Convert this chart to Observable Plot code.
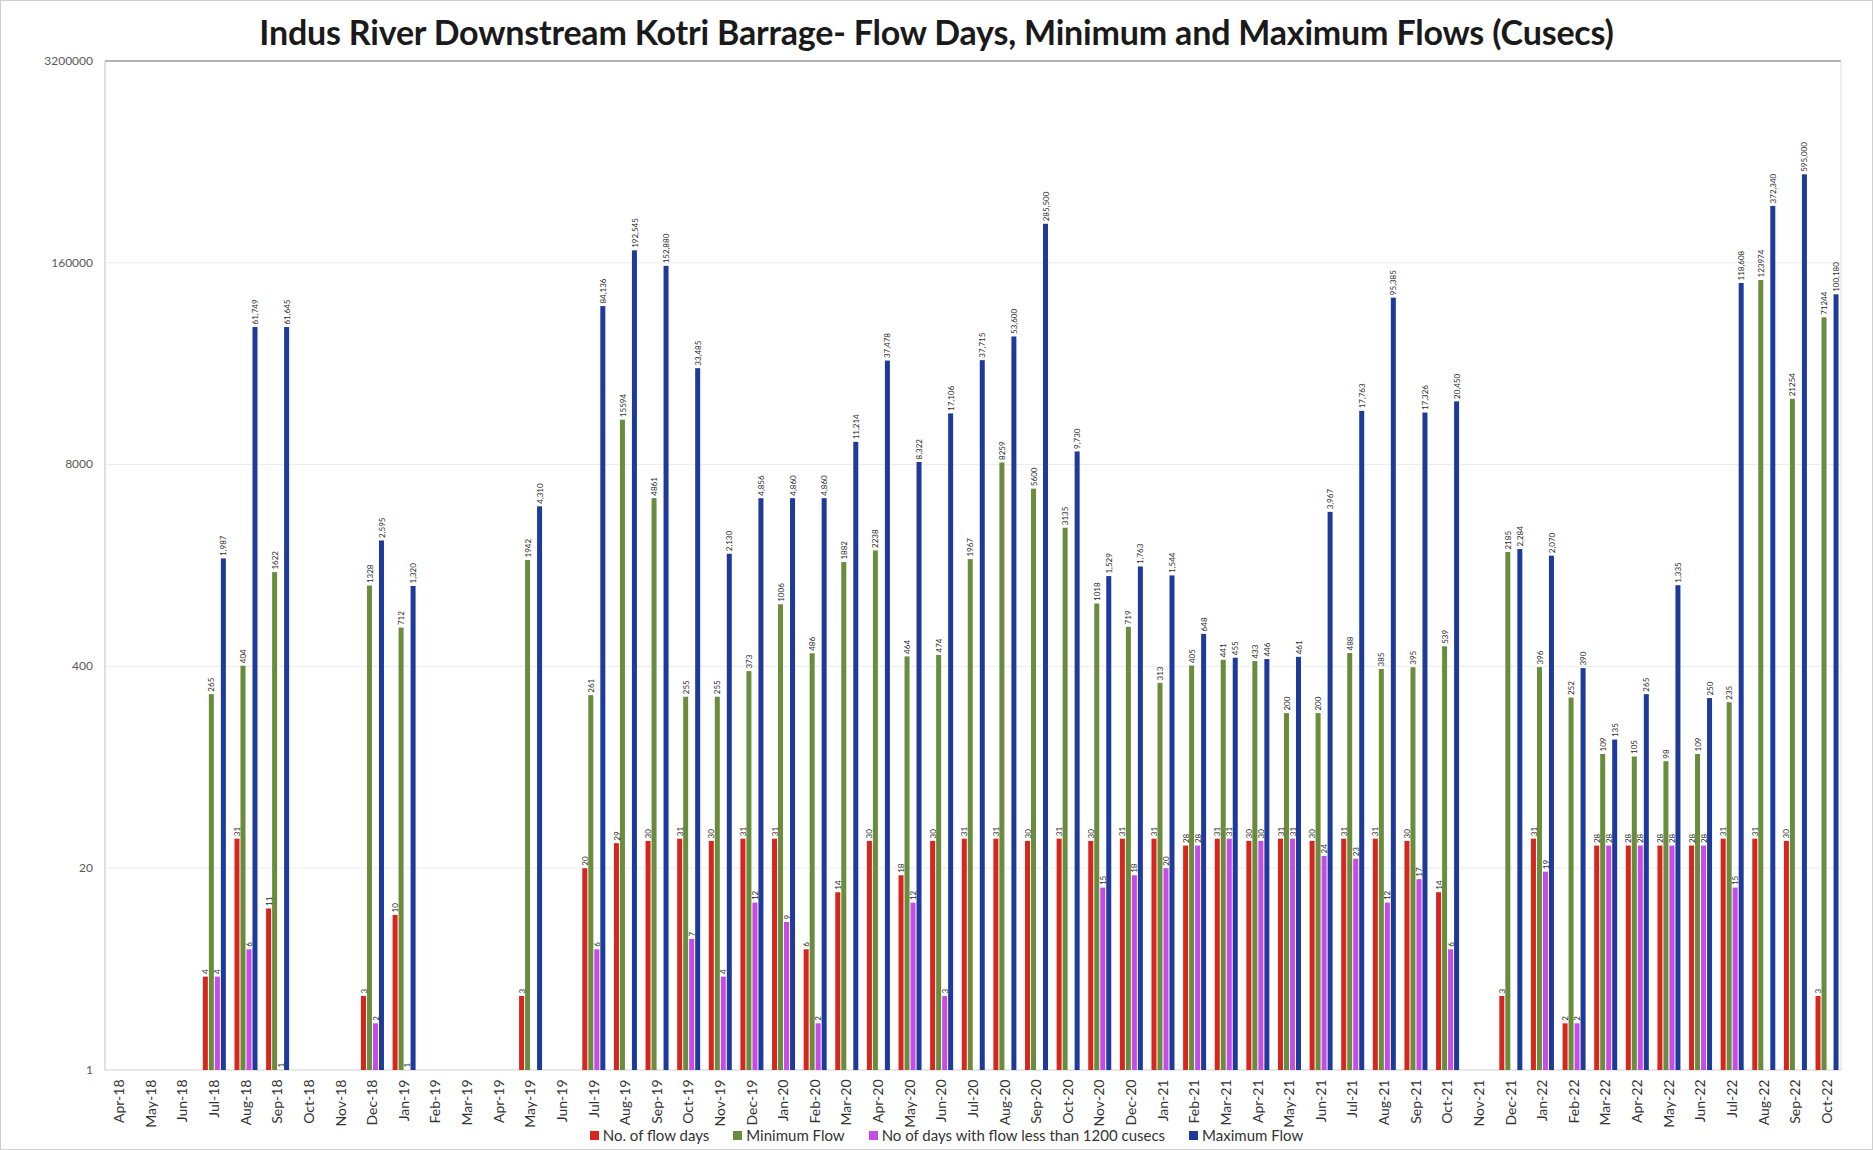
<!DOCTYPE html>
<html>
<head>
<meta charset="utf-8">
<script src="https://cdn.jsdelivr.net/npm/d3@7"></script>
<script src="https://cdn.jsdelivr.net/npm/@observablehq/plot@0.6"></script>
<style>
  body { margin: 0; background: #fff; }
  #wrap { width: 1873px; height: 1150px; box-sizing: border-box; border: 1px solid #cfcfcf; overflow: hidden;
          font-family: Lato, "Open Sans", sans-serif; background: #fff; }
  #title { height: 46px; padding-top: 8px; line-height: 46px; text-align: center; font-weight: 700;
           font-size: 34px; color: #1a1a1a; letter-spacing: -0.2px; }
  #chart svg { display: block; overflow: visible; }
  #legend { display: flex; justify-content: center; gap: 24px; font-size: 15px; color: #333;
            height: 16px; line-height: 16px; padding-left: 20px; position: relative; margin-top: -9px; }
  #legend .it { display: flex; align-items: center; }
  #legend .sw { display: inline-block; width: 9px; height: 9px; margin-right: 4px; }
</style>
</head>
<body>
<div id="wrap">
  <div id="title">Indus River Downstream Kotri Barrage- Flow Days, Minimum and Maximum Flows (Cusecs)</div>
  <div id="chart"></div>
  <div id="legend"></div>
</div>
<script>
const months = ["Apr-18","May-18","Jun-18","Jul-18","Aug-18","Sep-18","Oct-18","Nov-18","Dec-18","Jan-19",
  "Feb-19","Mar-19","Apr-19","May-19","Jun-19","Jul-19","Aug-19","Sep-19","Oct-19","Nov-19","Dec-19",
  "Jan-20","Feb-20","Mar-20","Apr-20","May-20","Jun-20","Jul-20","Aug-20","Sep-20","Oct-20","Nov-20",
  "Dec-20","Jan-21","Feb-21","Mar-21","Apr-21","May-21","Jun-21","Jul-21","Aug-21","Sep-21","Oct-21",
  "Nov-21","Dec-21","Jan-22","Feb-22","Mar-22","Apr-22","May-22","Jun-22","Jul-22","Aug-22","Sep-22","Oct-22"];

const seriesNames = ["No. of flow days", "Minimum Flow", "No of days with flow less than 1200 cusecs", "Maximum Flow"];
const seriesColors = ["#d7261e", "#6a8d3d", "#c64be8", "#1e3a9b"];

const flowDays = [null,null,null,4,31,11,null,null,3,10,null,null,null,3,null,20,29,30,31,30,31,
  31,6,14,30,18,30,31,31,30,31,30,31,31,28,31,30,31,30,31,31,30,14,null,3,31,2,28,28,28,28,31,31,30,3];

const minFlow = [null,null,null,265,404,1622,null,null,1328,712,null,null,null,1942,null,261,15594,4861,255,255,373,
  1006,486,1882,2238,464,474,1967,8259,5600,3135,1018,719,313,405,441,433,200,200,488,385,395,539,null,
  2185,396,252,109,105,98,109,235,123974,21254,71244];

const lowDays = [null,null,null,4,6,1,null,null,2,1,null,null,null,null,null,6,null,null,7,4,12,
  9,2,null,null,12,3,null,null,null,null,15,18,20,28,31,30,31,24,23,12,17,6,null,
  null,19,2,28,28,28,28,15,null,null,null];

const maxFlow = [null,null,null,1987,61749,61645,null,null,2595,1320,null,null,null,4310,null,84136,192545,152880,33485,2130,4856,
  4860,4860,11214,37478,8322,17106,37715,53600,285500,9730,1529,1763,1544,648,455,446,461,3967,17763,95385,17326,20450,null,
  2284,2070,390,135,265,1335,250,118608,372340,595000,100180];

const yTicks = [1, 20, 400, 8000, 160000, 3200000];

// long table built from the arrays above
const seriesArrays = [flowDays, minFlow, lowDays, maxFlow];
const rows = [];
months.forEach((m, i) => {
  seriesArrays.forEach((arr, k) => {
    if (arr[i] != null) rows.push({month: m, series: seriesNames[k], value: arr[i]});
  });
});
const fmtComma = d3.format(",");
const labelText = d => d.series === "Maximum Flow" ? fmtComma(d.value) : String(d.value);

const chart = Plot.plot({
  width: 1871,
  height: 1081,
  marginLeft: 104,
  marginRight: 31,
  marginTop: 6,
  marginBottom: 66,
  style: {fontFamily: "Lato, 'Open Sans', sans-serif", fontSize: "12px", background: "white", color: "#404040", overflow: "visible"},
  fx: {domain: months, padding: 0.1, axis: "bottom", label: null, tickRotate: -90, tickSize: 0, tickPadding: 9},
  x: {domain: seriesNames, padding: 0.22, axis: null},
  y: {type: "log", domain: [1, 3200000], axis: null},
  color: {domain: seriesNames, range: seriesColors},
  marks: [
    Plot.barY(rows, {fx: "month", x: "series", y1: 1, y2: "value", fill: "series"}),
    Plot.text(rows, {fx: "month", x: "series", y: "value", text: labelText, rotate: -90,
      textAnchor: "start", dy: -3, fontSize: 8, fill: "#2a2a2a"})
  ]
});

// gridlines, y tick labels and plot border drawn from the plot's own y scale
const ys = chart.scale("y");
const yf = ys.apply ? (v => ys.apply(v)) : d3.scaleLog(ys.domain, ys.range);
const xL = 104, xR = 1871 - 31;
const svg = d3.select(chart);
const grid = svg.insert("g", "g").attr("class", "grid");
yTicks.forEach(t => {
  const yy = yf(t);
  grid.append("line").attr("x1", xL).attr("x2", xR).attr("y1", yy).attr("y2", yy)
    .attr("stroke", t === 3200000 ? "#9a9a9a" : (t === 1 ? "#cfcfcf" : "#ececec"))
    .attr("stroke-width", t === 3200000 ? 1.6 : 1);
  grid.append("text").attr("x", xL - 12).attr("y", yy).attr("dy", "0.32em")
    .attr("text-anchor", "end").attr("fill", "#5a5a5a").style("font-size", "12px").text(String(t));
});
grid.append("line").attr("x1", xL).attr("x2", xL).attr("y1", yf(3200000)).attr("y2", yf(1))
  .attr("stroke", "#c4c4c4");
grid.append("line").attr("x1", xR).attr("x2", xR).attr("y1", yf(3200000)).attr("y2", yf(1))
  .attr("stroke", "#dedede");

svg.selectAll('[aria-label="fx-axis tick label"] text').style("font-size", "14px").attr("fill", "#333");

document.getElementById("chart").appendChild(chart);

const legend = d3.select("#legend");
seriesNames.forEach((s, i) => {
  const it = legend.append("div").attr("class", "it");
  it.append("span").attr("class", "sw").style("background", seriesColors[i]);
  it.append("span").text(s);
});
</script>
</body>
</html>
